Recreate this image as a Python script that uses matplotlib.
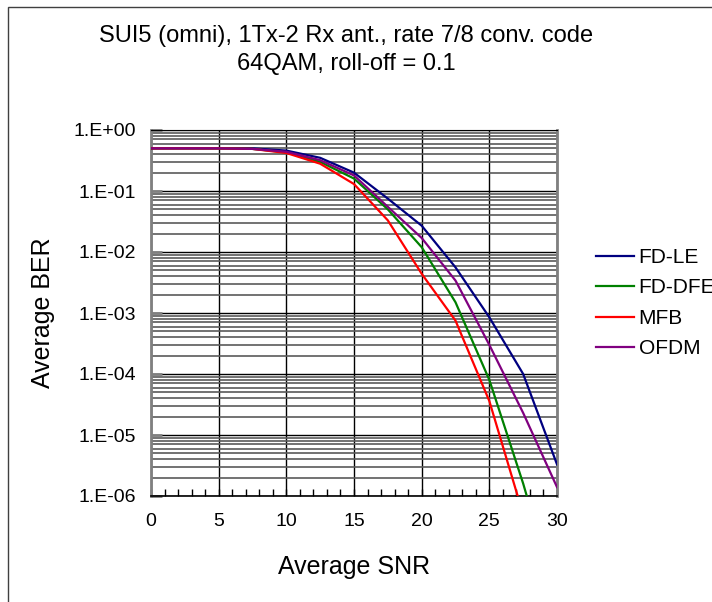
import numpy as np
import matplotlib.pyplot as plt
from matplotlib.ticker import LogLocator, MultipleLocator, FuncFormatter, NullFormatter
from matplotlib.patches import Rectangle

plt.rcParams['font.family'] = ['Liberation Sans', 'DejaVu Sans']

# data (BER vs SNR, log scale)
snr = [0, 2.5, 5, 7.5, 10, 12.5, 15, 17.5, 20, 22.5, 25, 27.5, 30]
ber_fd_le = [0.5, 0.5, 0.5, 0.5, 0.46, 0.35, 0.2, 0.075, 0.027, 0.0056, 8.5e-4, 1.0e-4, 3.3e-6]
ber_fd_dfe = [0.5, 0.5, 0.5, 0.49, 0.43, 0.3, 0.16, 0.05, 0.012, 0.0015, 8e-5, 1.6e-6, 2e-8]
ber_mfb = [0.5, 0.5, 0.5, 0.49, 0.42, 0.28, 0.13, 0.033, 0.0044, 7.5e-4, 3.6e-5, 5e-7, 1e-9]
ber_ofdm = [0.5, 0.5, 0.5, 0.49, 0.44, 0.32, 0.18, 0.055, 0.017, 0.0034, 3.0e-4, 2.3e-5, 1.4e-6]

series_names = ['FD-LE', 'FD-DFE', 'MFB', 'OFDM']
series_data = [ber_fd_le, ber_fd_dfe, ber_mfb, ber_ofdm]
series_colors = ['#000080', '#008000', '#ff0000', '#800080']

title = 'SUI5 (omni), 1Tx-2 Rx ant., rate 7/8 conv. code\n64QAM, roll-off = 0.1'

W, H = 712, 602
fig = plt.figure(figsize=(W / 100, H / 100), dpi=100, facecolor='white')
ax = fig.add_axes([151 / W, 1 - 496 / H, (557 - 151) / W, (496 - 130) / H])

# chart frame, only left/top edge visible in the crop
fig.add_artist(Rectangle((8 / W, -0.5), 2, 1.5 - 7 / H, transform=fig.transFigure,
                         fill=False, edgecolor='#404040', lw=1))

for name, vals, col in zip(series_names, series_data, series_colors):
    ax.plot(snr, vals, color=col, lw=1.6, label=name, zorder=3)

ax.set_yscale('log')
ax.set_xlim(0, 30)
ax.set_ylim(1e-6, 1)

ax.xaxis.set_major_locator(MultipleLocator(5))
ax.xaxis.set_minor_locator(MultipleLocator(1))
ax.yaxis.set_major_locator(LogLocator(base=10, numticks=10))
ax.yaxis.set_minor_locator(LogLocator(base=10, subs=np.arange(2, 10), numticks=20))
ax.yaxis.set_minor_formatter(NullFormatter())
ax.yaxis.set_major_formatter(FuncFormatter(lambda v, p: f"1.E{int(round(np.log10(v))):+03d}"))

ax.grid(which='minor', axis='y', color='#5a5a5a', lw=1.2, zorder=1)
ax.grid(which='major', axis='y', color='black', lw=1.0, zorder=1)
ax.grid(which='major', axis='x', color='black', lw=1.0, zorder=1)
ax.set_axisbelow(True)

ax.tick_params(axis='x', which='both', direction='in', length=5, width=1,
               labelsize=14, pad=12, color='black')
ax.tick_params(axis='y', which='major', direction='in', length=8, width=2,
               color='#808080', labelsize=14, pad=11)
ax.tick_params(axis='y', which='minor', length=0)

for side in ['left', 'right']:
    ax.spines[side].set_color('#808080')
    ax.spines[side].set_linewidth(2)
ax.spines['top'].set_color('black')
ax.spines['bottom'].set_color('black')
ax.spines['bottom'].set_linewidth(1.2)

ax.set_xlabel('Average SNR', fontsize=18, labelpad=18)
ax.set_ylabel('Average BER', fontsize=18, labelpad=13)

fig.text(346 / W, 1 - 50 / H, title, ha='center', va='center', fontsize=17, linespacing=1.35)

ax.legend(loc='upper left', bbox_to_anchor=(596 / W, 1 - 248 / H),
          bbox_transform=fig.transFigure, frameon=False, fontsize=15,
          handlelength=1.8, handletextpad=0.25, labelspacing=0.55,
          borderaxespad=0, borderpad=0)

fig.savefig('out.png', dpi=100, facecolor='white')
